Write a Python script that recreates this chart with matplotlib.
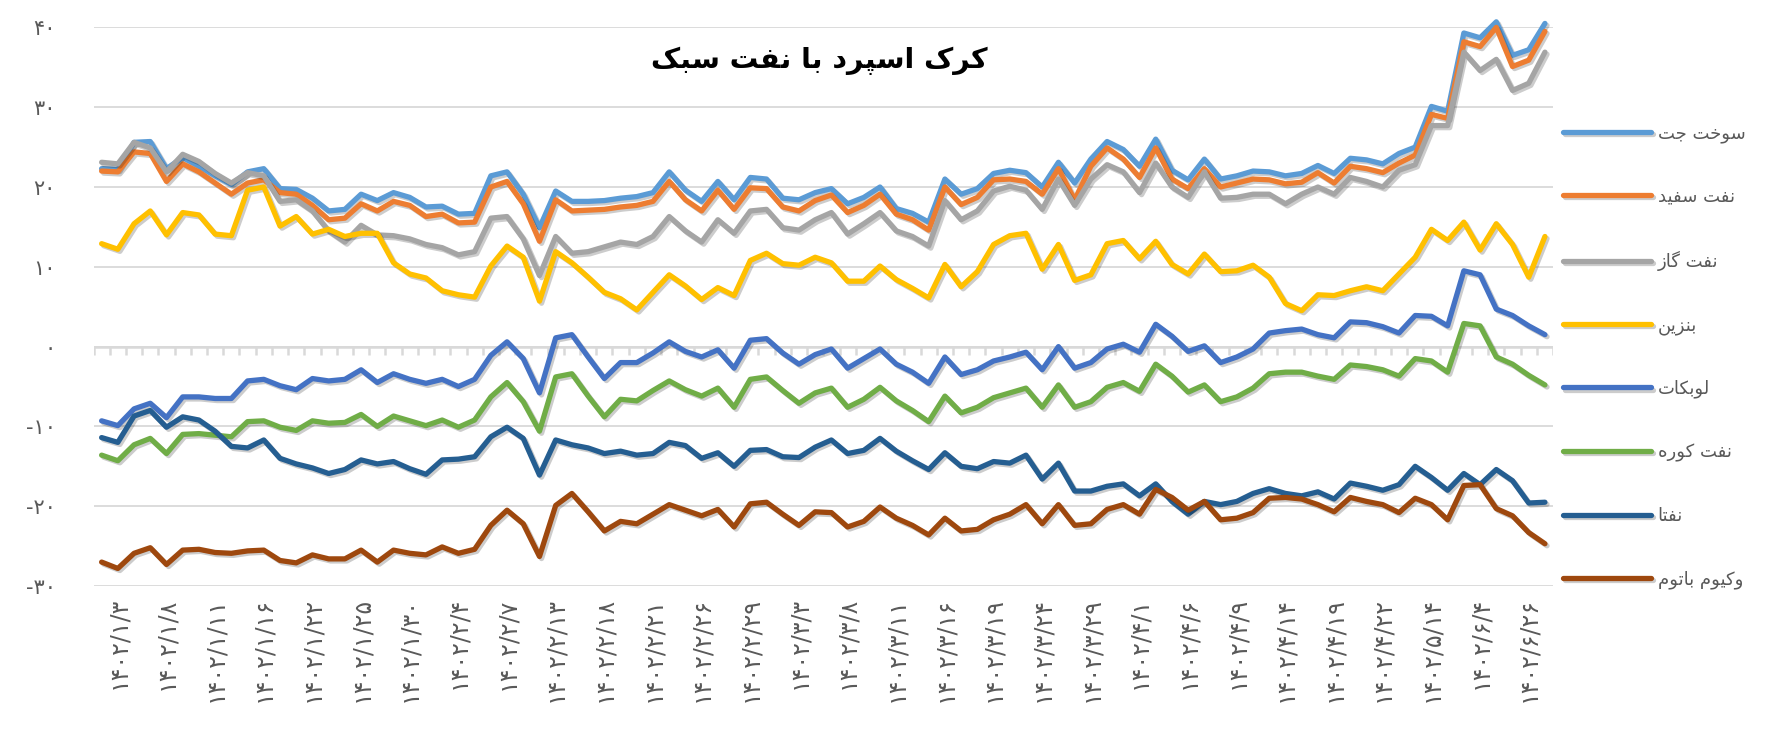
import numpy as np
import matplotlib.pyplot as plt
import matplotlib.patheffects as pe

# Persian letters -> presentation forms (isolated, final, initial, medial)
FORMS = {
    'ا': ('\uFE8D', '\uFE8E'),
    'د': ('\uFEA9', '\uFEAA'),
    'ر': ('\uFEAD', '\uFEAE'),
    'ز': ('\uFEAF', '\uFEB0'),
    'و': ('\uFEED', '\uFEEE'),
    'ب': ('\uFE8F', '\uFE90', '\uFE91', '\uFE92'),
    'ت': ('\uFE95', '\uFE96', '\uFE97', '\uFE98'),
    'ج': ('\uFE9D', '\uFE9E', '\uFE9F', '\uFEA0'),
    'خ': ('\uFEA5', '\uFEA6', '\uFEA7', '\uFEA8'),
    'س': ('\uFEB1', '\uFEB2', '\uFEB3', '\uFEB4'),
    'ف': ('\uFED1', '\uFED2', '\uFED3', '\uFED4'),
    'ل': ('\uFEDD', '\uFEDE', '\uFEDF', '\uFEE0'),
    'م': ('\uFEE1', '\uFEE2', '\uFEE3', '\uFEE4'),
    'ن': ('\uFEE5', '\uFEE6', '\uFEE7', '\uFEE8'),
    'ه': ('\uFEE9', '\uFEEA', '\uFEEB', '\uFEEC'),
    'پ': ('\uFB56', '\uFB57', '\uFB58', '\uFB59'),
    'ک': ('\uFB8E', '\uFB8F', '\uFB90', '\uFB91'),
    'گ': ('\uFB92', '\uFB93', '\uFB94', '\uFB95'),
    'ی': ('\uFBFC', '\uFBFD', '\uFBFE', '\uFBFF'),
}
FA_DIGITS = str.maketrans('0123456789', '۰۱۲۳۴۵۶۷۸۹')


def fa(text):
    # join letters and put them in visual (right-to-left) order
    out = []
    for k, c in enumerate(text):
        f = FORMS.get(c)
        if f is None:
            out.append(c)
            continue
        prev = text[k - 1] if k > 0 else ''
        nxt = text[k + 1] if k < len(text) - 1 else ''
        jp = prev in FORMS and len(FORMS[prev]) == 4
        jn = len(f) == 4 and nxt in FORMS
        if len(f) == 2:
            out.append(f[1] if jp else f[0])
        else:
            out.append(f[(3 if jn else 1) if jp else (2 if jn else 0)])
    return ''.join(reversed(out))


title = 'کرک اسپرد با نفت سبک'
names = ['سوخت جت', 'نفت سفید', 'نفت گاز', 'بنزین',
         'لوبکات', 'نفت کوره', 'نفتا', 'وکیوم باتوم']
colors = ['#5B9BD5', '#ED7D31', '#A5A5A5', '#FFC000',
          '#4472C4', '#70AD47', '#255E91', '#9E480E']

# every third date is labelled (points 1, 4, 7, ...)
dates = ['1402/1/3', '1402/1/8', '1402/1/11', '1402/1/16', '1402/1/22',
         '1402/1/25', '1402/1/30', '1402/2/4', '1402/2/7', '1402/2/13',
         '1402/2/18', '1402/2/21', '1402/2/26', '1402/2/29', '1402/3/3',
         '1402/3/8', '1402/3/11', '1402/3/16', '1402/3/19', '1402/3/24',
         '1402/3/29', '1402/4/1', '1402/4/6', '1402/4/9', '1402/4/14',
         '1402/4/19', '1402/4/22', '1402/5/14', '1402/6/4', '1402/6/26']

jet = [22.3, 22.2, 25.6, 25.7, 22.3, 23.7, 22.6, 21.4, 20.3, 21.9,
       22.3, 19.8, 19.7, 18.6, 17.0, 17.2, 19.1, 18.3, 19.3, 18.7,
       17.5, 17.6, 16.6, 16.7, 21.4, 21.9, 19.1, 14.9, 19.5, 18.2,
       18.2, 18.3, 18.6, 18.8, 19.3, 21.9, 19.6, 18.2, 20.7, 18.4,
       21.2, 21.0, 18.6, 18.4, 19.3, 19.8, 17.9, 18.7, 20.0, 17.3,
       16.7, 15.6, 21.0, 19.1, 19.8, 21.7, 22.1, 21.8, 20.0, 23.1,
       20.5, 23.5, 25.7, 24.7, 22.6, 26.0, 22.1, 20.9, 23.5, 21.0,
       21.4, 22.0, 21.9, 21.4, 21.7, 22.7, 21.7, 23.6, 23.4, 22.9,
       24.2, 25.0, 30.1, 29.5, 39.3, 38.7, 40.7, 36.5, 37.2, 40.5]
kerosene = [22.0, 21.9, 24.4, 24.2, 20.7, 22.9, 21.9, 20.5, 19.1, 20.5,
            20.9, 19.3, 19.1, 17.7, 15.9, 16.1, 17.9, 17.0, 18.2, 17.7,
            16.3, 16.6, 15.5, 15.6, 20.0, 20.7, 17.9, 13.2, 18.4, 17.0,
            17.1, 17.2, 17.5, 17.7, 18.2, 20.7, 18.4, 17.0, 19.6, 17.2,
            19.9, 19.8, 17.5, 17.0, 18.3, 19.0, 16.8, 17.7, 19.1, 16.6,
            15.9, 14.6, 20.0, 17.8, 18.7, 20.9, 21.0, 20.7, 19.1, 22.3,
            18.4, 22.6, 24.9, 23.5, 21.2, 24.9, 21.0, 19.8, 22.3, 20.0,
            20.5, 21.0, 20.9, 20.4, 20.6, 21.8, 20.5, 22.6, 22.3, 21.8,
            23.0, 24.0, 29.1, 28.6, 38.2, 37.6, 40.0, 35.1, 35.9, 39.5]
gasoil = [23.1, 22.9, 25.6, 24.9, 21.9, 24.1, 23.2, 21.7, 20.5, 21.8,
          21.4, 18.2, 18.4, 17.0, 14.5, 13.1, 15.2, 14.0, 13.9, 13.5,
          12.8, 12.4, 11.5, 11.9, 16.1, 16.3, 13.5, 8.9, 13.8, 11.7,
          11.9, 12.5, 13.1, 12.8, 13.8, 16.3, 14.5, 13.1, 15.9, 14.2,
          17.0, 17.2, 14.9, 14.6, 15.9, 16.8, 14.1, 15.4, 16.8, 14.5,
          13.8, 12.6, 18.3, 15.9, 17.0, 19.5, 20.1, 19.6, 17.2, 21.0,
          17.7, 21.0, 22.8, 21.9, 19.3, 23.0, 20.0, 18.7, 21.9, 18.6,
          18.7, 19.1, 19.1, 17.9, 19.1, 20.0, 19.1, 21.2, 20.7, 20.0,
          22.1, 22.8, 27.7, 27.7, 36.9, 34.6, 36.0, 32.1, 33.0, 36.9]
gasoline = [12.9, 12.2, 15.4, 17.0, 14.0, 16.8, 16.5, 14.1, 13.9, 19.6,
            20.0, 15.1, 16.3, 14.1, 14.7, 13.8, 14.2, 14.2, 10.5, 9.1,
            8.6, 7.0, 6.5, 6.2, 10.1, 12.6, 11.2, 5.7, 11.9, 10.5,
            8.7, 6.8, 6.0, 4.6, 6.8, 9.0, 7.6, 5.9, 7.4, 6.4,
            10.8, 11.7, 10.4, 10.2, 11.2, 10.5, 8.2, 8.2, 10.1, 8.4,
            7.3, 6.1, 10.3, 7.5, 9.4, 12.8, 13.9, 14.2, 9.7, 12.8,
            8.3, 9.0, 12.9, 13.3, 11.0, 13.2, 10.3, 9.1, 11.6, 9.4,
            9.5, 10.2, 8.7, 5.4, 4.5, 6.5, 6.4, 7.0, 7.5, 7.0,
            9.1, 11.2, 14.7, 13.3, 15.6, 12.1, 15.4, 12.8, 8.7, 13.8]
lubecut = [-9.3, -9.9, -7.8, -7.1, -8.9, -6.3, -6.3, -6.5, -6.5, -4.3,
           -4.1, -4.9, -5.4, -4.0, -4.3, -4.1, -2.9, -4.5, -3.4, -4.1,
           -4.6, -4.1, -5.0, -4.1, -1.1, 0.6, -1.5, -5.8, 1.1, 1.5,
           -1.3, -4.0, -2.0, -2.0, -0.8, 0.6, -0.6, -1.3, -0.4, -2.7,
           0.8, 1.0, -0.8, -2.2, -1.0, -0.3, -2.7, -1.5, -0.3, -2.2,
           -3.2, -4.6, -1.3, -3.5, -2.9, -1.8, -1.3, -0.7, -2.9, 0.0,
           -2.7, -2.0, -0.3, 0.3, -0.7, 2.8, 1.3, -0.6, 0.1, -2.0,
           -1.3, -0.3, 1.7, 2.0, 2.2, 1.5, 1.1, 3.1, 3.0, 2.5,
           1.7, 3.9, 3.8, 2.6, 9.5, 9.0, 4.7, 3.9, 2.6, 1.5]
fuel_oil = [-13.6, -14.3, -12.3, -11.5, -13.4, -11.0, -10.9, -11.1, -11.3, -9.4,
            -9.3, -10.1, -10.5, -9.3, -9.6, -9.5, -8.5, -10.0, -8.7, -9.3,
            -9.9, -9.2, -10.1, -9.2, -6.3, -4.5, -6.9, -10.6, -3.8, -3.4,
            -6.2, -8.8, -6.6, -6.8, -5.5, -4.3, -5.4, -6.2, -5.2, -7.6,
            -4.1, -3.8, -5.5, -7.1, -5.8, -5.2, -7.6, -6.6, -5.1, -6.8,
            -8.0, -9.4, -6.2, -8.3, -7.6, -6.4, -5.8, -5.2, -7.6, -4.8,
            -7.6, -6.9, -5.1, -4.5, -5.6, -2.2, -3.7, -5.7, -4.8, -6.9,
            -6.3, -5.2, -3.4, -3.2, -3.2, -3.7, -4.1, -2.3, -2.5, -2.9,
            -3.7, -1.5, -1.8, -3.2, 2.9, 2.6, -1.3, -2.2, -3.6, -4.8]
naphtha = [-11.4, -12.0, -8.7, -8.0, -10.1, -8.8, -9.2, -10.6, -12.5, -12.7,
           -11.7, -14.0, -14.7, -15.2, -15.9, -15.4, -14.2, -14.7, -14.4, -15.3,
           -16.0, -14.2, -14.1, -13.8, -11.3, -10.1, -11.5, -16.1, -11.7, -12.3,
           -12.7, -13.4, -13.1, -13.6, -13.4, -12.0, -12.4, -14.0, -13.3, -15.0,
           -13.0, -12.9, -13.8, -13.9, -12.6, -11.7, -13.4, -13.0, -11.5, -13.1,
           -14.3, -15.4, -13.3, -15.0, -15.3, -14.4, -14.6, -13.6, -16.6, -14.6,
           -18.1, -18.1, -17.5, -17.2, -18.7, -17.2, -19.4, -21.0, -19.4, -19.8,
           -19.4, -18.4, -17.8, -18.4, -18.7, -18.2, -19.1, -17.1, -17.5, -18.0,
           -17.3, -15.0, -16.4, -18.0, -15.9, -17.3, -15.4, -16.8, -19.6, -19.5]
vacuum_bottom = [-27.0, -27.8, -25.9, -25.2, -27.3, -25.5, -25.4, -25.8, -25.9, -25.6,
                 -25.5, -26.8, -27.1, -26.1, -26.6, -26.6, -25.5, -27.0, -25.5, -25.9,
                 -26.1, -25.1, -25.9, -25.4, -22.4, -20.5, -22.2, -26.3, -19.9, -18.4,
                 -20.7, -23.1, -21.9, -22.2, -21.0, -19.8, -20.5, -21.2, -20.4, -22.6,
                 -19.7, -19.5, -21.0, -22.4, -20.7, -20.8, -22.6, -21.9, -20.1, -21.5,
                 -22.4, -23.6, -21.5, -23.1, -22.9, -21.7, -21.0, -19.8, -22.2, -19.8,
                 -22.4, -22.2, -20.4, -19.8, -21.0, -17.9, -18.9, -20.5, -19.4, -21.7,
                 -21.5, -20.8, -19.0, -18.9, -19.1, -19.8, -20.7, -18.9, -19.4, -19.8,
                 -20.8, -19.0, -19.8, -21.7, -17.4, -17.3, -20.3, -21.2, -23.3, -24.7]

series = [jet, kerosene, gasoil, gasoline, lubecut, fuel_oil, naphtha, vacuum_bottom]
x = np.arange(len(jet))

fig = plt.figure(figsize=(17.88, 7.47), dpi=100)
ax = fig.add_axes([0.0523, 0.2155, 0.8163, 0.7478])

shadow = [pe.SimpleLineShadow(offset=(1.5, -1.5), shadow_color='black', alpha=0.2), pe.Normal()]
lines = []
for vals, c in zip(series, colors):
    ln, = ax.plot(x, vals, color=c, lw=3.8, solid_joinstyle='round',
                  solid_capstyle='round', clip_on=False, path_effects=shadow)
    lines.append(ln)

ax.set_xlim(-0.5, len(x) - 0.5)
ax.set_ylim(-30, 40)
yt = np.arange(-30, 41, 10)
ax.set_yticks(yt)
ax.set_yticklabels([('-' if v < 0 else '') + str(abs(v)).translate(FA_DIGITS) for v in yt])
ax.grid(axis='y', color='#d9d9d9', lw=1.3)
ax.set_axisbelow(True)
for s in ax.spines.values():
    s.set_visible(False)

ax.set_xticks(x[1::3])
ax.set_xticklabels([d.translate(FA_DIGITS) for d in dates], rotation=90)
ax.tick_params(axis='x', length=0, pad=8, labelsize=17, labelcolor='#595959')
ax.tick_params(axis='y', length=0, pad=27, labelsize=15, labelcolor='#595959')

# horizontal axis at zero with category tick marks
ax.axhline(0, color='#d9d9d9', lw=1.8, zorder=0.5)
ax.vlines(np.arange(-0.5, len(x)), -1.1, 0, color='#d9d9d9', lw=1.8, zorder=0.5)

fig.text(0.458, 0.918, fa(title), ha='center', va='center',
         fontsize=20.5, fontweight='bold', color='black')

leg = fig.legend(lines, [fa(n) for n in names], loc='upper left',
                 bbox_to_anchor=(0.874, 0.834), frameon=False, fontsize=13,
                 labelspacing=2.5, handlelength=4.9, handletextpad=0.35,
                 borderpad=0, borderaxespad=0)
for t in leg.get_texts():
    t.set_color('#595959')

fig.savefig('out.png', dpi=100)
